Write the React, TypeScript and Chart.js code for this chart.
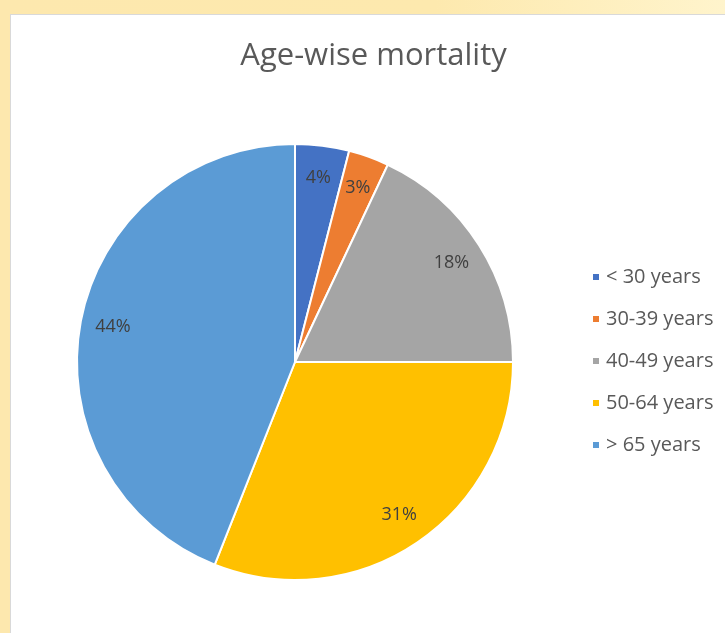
import React, { useEffect, useRef } from "react";
import { Chart, registerables } from "chart.js";

Chart.register(...registerables);

const title = "Age-wise mortality";
const ageGroups = ["< 30 years", "30-39 years", "40-49 years", "50-64 years", "> 65 years"];
const shares = [4, 3, 18, 31, 44];
const sliceColors = ["#4472C4", "#ED7D31", "#A5A5A5", "#FFC000", "#5B9BD5"];

const FONT = "'Open Sans', sans-serif";

// Percentage labels drawn just inside the outer edge of each slice
const sliceLabels = {
  id: "sliceLabels",
  afterDatasetsDraw(chart: any) {
    const { ctx } = chart;
    const meta = chart.getDatasetMeta(0);
    const data = chart.data.datasets[0].data as number[];
    ctx.save();
    ctx.font = `18px ${FONT}`;
    ctx.fillStyle = "#404040";
    ctx.textAlign = "center";
    ctx.textBaseline = "middle";
    meta.data.forEach((arc: any, i: number) => {
      const { x, y, startAngle, endAngle, outerRadius } = arc.getProps(
        ["x", "y", "startAngle", "endAngle", "outerRadius"],
        true
      );
      const mid = (startAngle + endAngle) / 2;
      const r = outerRadius * 0.85;
      ctx.fillText(data[i] + "%", x + Math.cos(mid) * r, y + Math.sin(mid) * r);
    });
    ctx.restore();
  },
};

// Chart title across the top and a legend column to the right of the pie
const titleAndLegend = {
  id: "titleAndLegend",
  afterDraw(chart: any) {
    const { ctx, chartArea } = chart;
    ctx.save();
    ctx.font = `31px ${FONT}`;
    ctx.fillStyle = "#595959";
    ctx.textAlign = "center";
    ctx.textBaseline = "middle";
    ctx.fillText(title, chart.width / 2 + 6, 42);

    const labels = chart.data.labels as string[];
    const colors = chart.data.datasets[0].backgroundColor as string[];
    const step = 42;
    const cy = (chartArea.top + chartArea.bottom) / 2;
    const y0 = cy - (step * (labels.length - 1)) / 2 - 1;
    const bx = chartArea.right + 13;
    ctx.font = `20px ${FONT}`;
    ctx.textAlign = "left";
    labels.forEach((lab, i) => {
      const y = y0 + i * step;
      ctx.fillStyle = colors[i];
      ctx.fillRect(bx, y - 3, 6, 6);
      ctx.fillStyle = "#595959";
      ctx.fillText(lab, bx + 13, y);
    });
    ctx.restore();
  },
};

function PieChart() {
  const canvasRef = useRef<HTMLCanvasElement | null>(null);

  useEffect(() => {
    if (!canvasRef.current) return;
    const chart = new Chart(canvasRef.current, {
      type: "pie",
      data: {
        labels: ageGroups,
        datasets: [
          {
            data: shares,
            backgroundColor: sliceColors,
            borderColor: "#ffffff",
            borderWidth: 2,
          },
        ],
      },
      options: {
        animation: false,
        responsive: false,
        events: [],
        layout: { padding: { left: 0, right: 145, top: 129, bottom: 52 } },
        plugins: {
          title: { display: false },
          legend: { display: false },
          tooltip: { enabled: false },
        },
      },
      plugins: [sliceLabels, titleAndLegend],
    });
    return () => chart.destroy();
  }, []);

  return <canvas ref={canvasRef} width={715} height={619} style={{ display: "block" }} />;
}

export default function App() {
  return (
    <div
      style={{
        position: "fixed",
        inset: 0,
        background: "linear-gradient(90deg, #fde8ae 0%, #fde9ae 60%, #fff4cc 100%)",
      }}
    >
      <div
        style={{
          position: "absolute",
          left: 10,
          top: 14,
          width: 715,
          height: 619,
          background: "#ffffff",
          boxShadow: "inset 1px 1px 0 #d9d9d9",
        }}
      >
        <PieChart />
      </div>
    </div>
  );
}
